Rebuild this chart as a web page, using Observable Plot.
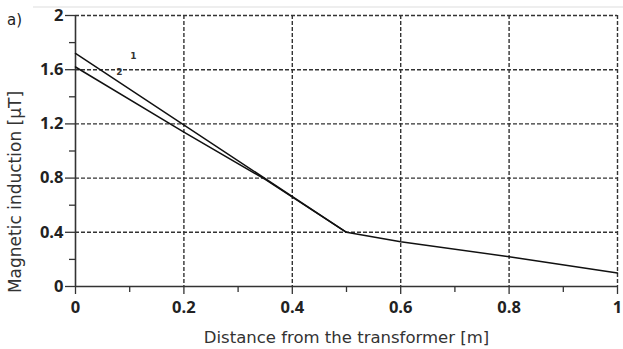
<!DOCTYPE html>
<html><head><meta charset="utf-8">
<script src="https://cdn.jsdelivr.net/npm/d3@7"></script>
<script src="https://cdn.jsdelivr.net/npm/@observablehq/plot@0.6"></script>
<style>
body{margin:0;background:#fff;font-family:"DejaVu Sans",sans-serif;}
#wrap{position:relative;width:623px;height:349px;}
#topline{position:absolute;left:33px;right:0;top:6px;height:0;border-top:2px solid #eeeeee;}
#tag{position:absolute;left:7px;top:11px;font-size:15px;color:#222;z-index:2;}
#chart svg{position:absolute;left:0;top:0;}
</style></head>
<body><div id="wrap"><div id="topline"></div><div id="tag">a)</div><div id="chart"></div></div>
<script>
const line1X = [0, 0.5, 0.6, 0.8, 1];
const line1Y = [1.72, 0.4, 0.33, 0.22, 0.1];
const line2X = [0, 0.2, 0.35, 0.5];
const line2Y = [1.62, 1.14, 0.79, 0.4];
const seriesLabels = ["1", "2"];
const labelX = [0.107, 0.081];
const labelY = [1.70, 1.58];
const xTicks = [0, 0.2, 0.4, 0.6, 0.8, 1];
const xMinor = [0.1, 0.3, 0.5, 0.7, 0.9];
const yTicks = [0, 0.4, 0.8, 1.2, 1.6, 2];
const yMinor = [0.2, 0.6, 1.0, 1.4, 1.8];

const l1 = line1X.map((x, i) => ({x, y: line1Y[i]}));
const l2 = line2X.map((x, i) => ({x, y: line2Y[i]}));
const labs = seriesLabels.map((t, i) => ({t, x: labelX[i], y: labelY[i]}));
const grid = {stroke: "#333", strokeOpacity: 1, strokeWidth: 1.4, strokeDasharray: "4,2"};

const chart = Plot.plot({
  width: 623, height: 349,
  marginLeft: 75, marginRight: 6, marginTop: 15, marginBottom: 63,
  style: {fontFamily: "'DejaVu Sans', sans-serif", background: "transparent"},
  x: {domain: [0, 1], label: null},
  y: {domain: [0, 2], label: null},
  marks: [
    Plot.gridX(xTicks.slice(1), grid),
    Plot.gridY(yTicks.slice(1), grid),
    Plot.axisX(xMinor, {tickSize: 6, tickFormat: () => "", stroke: "#333", strokeWidth: 1.3}),
    Plot.axisY(yMinor, {tickSize: 6, tickFormat: () => "", stroke: "#333", strokeWidth: 1.3}),
    Plot.axisX(xTicks, {tickSize: 8, tickPadding: 7, stroke: "#333", strokeWidth: 1.3,
      fontSize: 16.5, fontWeight: "bold", fill: "#222", fontFamily: "'Open Sans', sans-serif",
      tickFormat: d => String(d), label: null}),
    Plot.axisY(yTicks, {tickSize: 10, tickPadding: 2, stroke: "#333", strokeWidth: 1.3,
      fontSize: 16.5, fontWeight: "bold", fill: "#222", fontFamily: "'Open Sans', sans-serif",
      tickFormat: d => String(d), label: null}),
    Plot.ruleX([0], {stroke: "#333", strokeWidth: 1.6}),
    Plot.ruleY([0], {stroke: "#333", strokeWidth: 1.6}),
    Plot.line(l1, {x: "x", y: "y", stroke: "#111", strokeWidth: 1.5}),
    Plot.line(l2, {x: "x", y: "y", stroke: "#111", strokeWidth: 1.5}),
    Plot.text(labs, {x: "x", y: "y", text: "t", fontSize: 9, fontWeight: "bold", fill: "#333"}),
    Plot.text(["Distance from the transformer [m]"], {frameAnchor: "bottom", lineAnchor: "middle", dy: 51, fontSize: 16.5, fill: "#333"}),
    Plot.text(["Magnetic induction [µT]"], {frameAnchor: "left", textAnchor: "middle", lineAnchor: "middle", dx: -60, dy: 41, rotate: -90, fontSize: 17, fill: "#333"})
  ]
});
document.getElementById("chart").appendChild(chart);
</script></body></html>
